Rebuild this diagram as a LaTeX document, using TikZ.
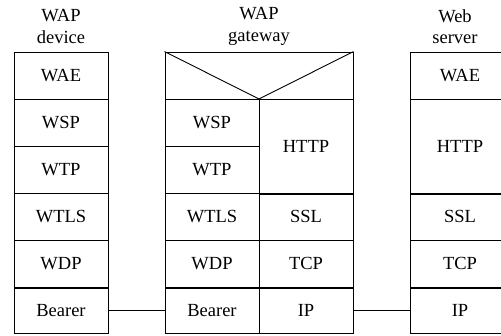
\documentclass[tikz,border=0pt]{standalone}
\usepackage{fontspec}
\setmainfont{Liberation Serif}
\begin{document}
\begin{tikzpicture}[x=1pt,y=-1pt,
  cell/.style={draw=black,line width=0.9pt,inner sep=0pt,minimum width=94pt,minimum height=47pt,font=\fontsize{18.5}{20}\selectfont},
  tallcell/.style={cell,minimum height=95pt},
  scell/.style={cell,minimum width=100pt},
  title/.style={align=center,font=\fontsize{18.5}{21.5}\selectfont,inner sep=0pt},
  link/.style={draw=black,line width=0.9pt}]
\useasboundingbox (0,0) rectangle (501,335);
% WAP device
\node[title] (t1) at (61,26.5) {WAP\\device};
\node[cell] (a1) at (61,75.5) {WAE};
\node[cell] (a2) at (61,122.5) {WSP};
\node[cell] (a3) at (61,169.5) {WTP};
\node[cell] (a4) at (61,216.5) {WTLS};
\node[cell] (a5) at (61,263.5) {WDP};
\node[cell,minimum height=45pt] (a6) at (61,310.5) {Bearer};
% WAP gateway
\node[title] (t2) at (259,26.5) {WAP\\gateway};
\node[cell,minimum width=188pt] (g0) at (259,75.5) {};
\draw[link] (g0.north west) -- (259,99) coordinate (gv) -- (g0.north east);
\node[cell] (g2) at (212,122.5) {WSP};
\node[cell] (g3) at (212,169.5) {WTP};
\node[cell] (g4) at (212,216.5) {WTLS};
\node[cell] (g5) at (212,263.5) {WDP};
\node[cell,minimum height=45pt] (g6) at (212,310.5) {Bearer};
\node[tallcell] (h2) at (306,146.5) {HTTP};
\node[cell] (h4) at (306,216.5) {SSL};
\node[cell] (h5) at (306,263.5) {TCP};
\node[cell,minimum height=45pt] (h6) at (306,310.5) {IP};
% Web server (right border lies outside the picture)
\node[title] (t3) at (455,26.5) {Web\\server};
\node[scell] (s1) at (460,75.5) {WAE};
\node[scell,minimum height=95pt] (s2) at (460,146.5) {HTTP};
\node[scell] (s4) at (460,216.5) {SSL};
\node[scell] (s5) at (460,263.5) {TCP};
\node[scell,minimum height=45pt] (s6) at (460,310.5) {IP};
% links
\draw[link] (a6.east) -- (g6.west);
\draw[link] (h6.east) -- (s6.west);
\end{tikzpicture}
\end{document}
